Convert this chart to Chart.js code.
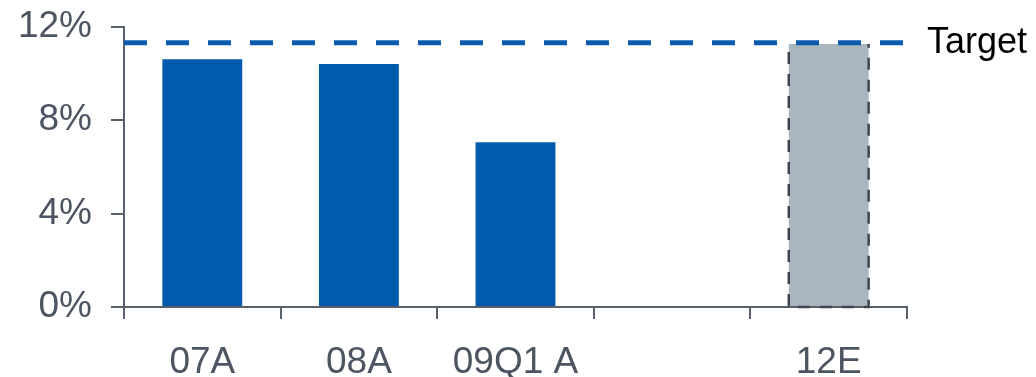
<!DOCTYPE html>
<html>
<head>
<meta charset="utf-8">
<script src="https://cdn.jsdelivr.net/npm/chart.js@4.4.1/dist/chart.umd.min.js"></script>
<style>
  html, body { margin: 0; padding: 0; background: #fff; }
  #wrap { width: 1036px; height: 377px; }
</style>
</head>
<body>
<div id="wrap"><canvas id="barChart"></canvas></div>
<script>
// Data
const categories = ['07A', '08A', '09Q1 A', '', '12E'];
const values = [10.6, 10.4, 7.05, null, 11.25];
const barColors = ['#005bac', '#005bac', '#005bac', '#005bac', '#a9b6bf'];
const estimateIndex = 4; // 12E is an estimate, drawn with dashed border
const targetValue = 11.3;
const targetLabel = 'Target';
const yTicks = [0, 4, 8, 12];

const axisColor = '#58606c';
const textColor = '#4d5562';
const fontFamily = '"Liberation Sans", Arial, sans-serif';

// draws the target line and the dashed outline of the estimate bar
const extrasPlugin = {
    id: 'extras',
    afterDatasetsDraw(chart) {
        const ctx = chart.ctx;
        const area = chart.chartArea;
        const y = chart.scales.y.getPixelForValue(targetValue);

        // dashed border on estimate bar (left, bottom, right)
        const bar = chart.getDatasetMeta(0).data[estimateIndex];
        const p = bar.getProps(['x', 'y', 'base', 'width'], true);
        const l = p.x - p.width / 2, r = p.x + p.width / 2;
        ctx.save();
        ctx.strokeStyle = '#3f4753';
        ctx.lineWidth = 2.5;
        ctx.setLineDash([12, 10]);
        ctx.beginPath();
        ctx.moveTo(l, p.y + 8);
        ctx.lineTo(l, p.base + 1);
        ctx.lineTo(r, p.base + 1);
        ctx.lineTo(r, p.y);
        ctx.stroke();
        ctx.restore();

        // target line
        ctx.save();
        ctx.strokeStyle = '#0b5cad';
        ctx.lineWidth = 5;
        ctx.setLineDash([23, 19]);
        ctx.beginPath();
        ctx.moveTo(area.left, y);
        ctx.lineTo(area.right + 15, y);
        ctx.stroke();
        ctx.setLineDash([]);
        ctx.fillStyle = '#000';
        ctx.font = '36px ' + fontFamily;
        ctx.textAlign = 'left';
        ctx.textBaseline = 'middle';
        ctx.fillText(targetLabel, area.right + 20, y);
        ctx.restore();
    }
};

const barCtx = document.getElementById('barChart').getContext('2d');
const barChart = new Chart(barCtx, {
    type: 'bar',
    data: {
        labels: categories,
        datasets: [{
            data: values,
            backgroundColor: barColors,
            borderWidth: 0,
            categoryPercentage: 1,
            barPercentage: 0.51
        }]
    },
    options: {
        responsive: true,
        maintainAspectRatio: false,
        animation: false,
        layout: {
            padding: { top: 26.5, right: 129, bottom: 0, left: 0 }
        },
        plugins: {
            legend: { display: false },
            tooltip: { enabled: false }
        },
        scales: {
            x: {
                grid: {
                    offset: true,
                    drawOnChartArea: false,
                    drawTicks: true,
                    tickLength: 12,
                    color: axisColor,
                    lineWidth: 2
                },
                border: { color: axisColor, width: 2 },
                ticks: {
                    color: textColor,
                    padding: 22,
                    font: { family: fontFamily, size: 37 }
                },
                afterFit(scale) {
                    scale.height = 70;
                    scale.paddingLeft = 0;
                    scale.paddingRight = 0;
                }
            },
            y: {
                min: 0,
                max: 12,
                afterBuildTicks(scale) {
                    scale.ticks = yTicks.map(v => ({ value: v }));
                },
                grid: {
                    drawOnChartArea: false,
                    drawTicks: true,
                    tickLength: 13,
                    color: axisColor,
                    lineWidth: 2
                },
                border: { color: axisColor, width: 2 },
                ticks: {
                    color: textColor,
                    padding: 19,
                    callback: v => v + '%',
                    font: { family: fontFamily, size: 37 }
                },
                afterFit(scale) {
                    scale.width = 124;
                    scale.paddingTop = 0;
                    scale.paddingBottom = 0;
                }
            }
        }
    },
    plugins: [extrasPlugin]
});
</script>
</body>
</html>
